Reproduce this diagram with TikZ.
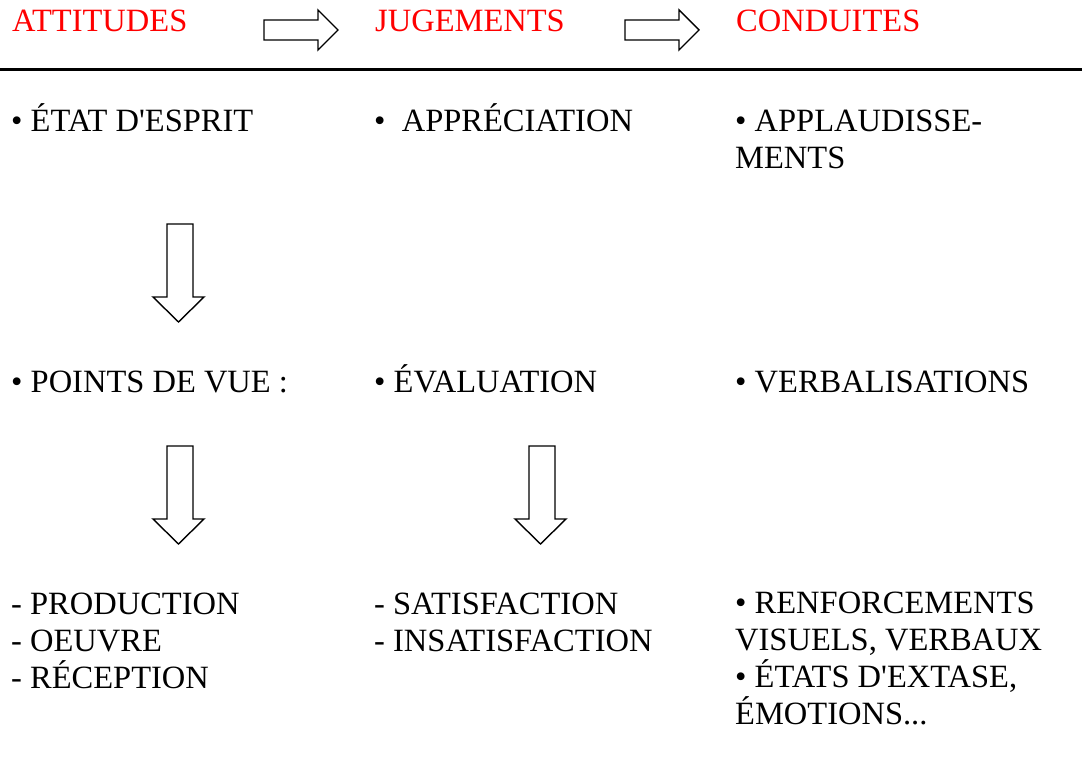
\documentclass[tikz,border=0pt]{standalone}
\usepackage{fontspec}
\setmainfont{Liberation Serif}[Ligatures=TeXOff]
\definecolor{hdred}{RGB}{255,0,0}
\begin{document}
\begin{tikzpicture}[x=1pt,y=-1pt,
  txt/.style={anchor=base west,inner sep=0pt,align=left,font=\fontsize{32.5}{37}\selectfont},
  hd/.style={txt,text=hdred},
  blk/.style={draw=black,line width=1.4pt,line join=miter,fill=white},
  rightarrow/.pic={\draw[blk] (0,10)--(54,10)--(54,0)--(74,20)--(54,40)--(54,30)--(0,30)--cycle;},
  downarrow/.pic={\draw[blk] (0,0)--(26,0)--(26,73)--(37,73)--(11.5,98)--(-14,73)--(0,73)--cycle;}]
\useasboundingbox (0,0) rectangle (1082,762);
% headers
\node[hd] (att) at (12,32) {ATTITUDES};
\node[hd] (jug) at (375,32) {JUGEMENTS};
\node[hd] (con) at (736,32) {CONDUITES};
\pic at (264,10) {rightarrow};
\pic at (625,10) {rightarrow};
\draw[line width=3pt] (0,70) -- (1082,70);
% row 1 (multi-line nodes: base anchor = last line)
\node[txt] (a1) at (11,132) {• ÉTAT D'ESPRIT};
\node[txt] (j1) at (374,132) {•\ \ APPRÉCIATION};
\node[txt] (c1) at (735,169) {• APPLAUDISSE-\\MENTS};
% row 2
\node[txt] (a2) at (11,392) {• POINTS DE VUE :};
\node[txt] (j2) at (374,392) {• ÉVALUATION};
\node[txt] (c2) at (735,392) {• VERBALISATIONS};
% row 3
\node[txt] (a3) at (11,688) {- PRODUCTION\\- OEUVRE\\- RÉCEPTION};
\node[txt] (j3) at (374,651) {- SATISFACTION\\- INSATISFACTION};
\node[txt] (c3) at (735,724) {• RENFORCEMENTS\\VISUELS, VERBAUX\\• ÉTATS D'EXTASE,\\ÉMOTIONS...};
% down arrows
\pic at (167,224) {downarrow};
\pic at (167,446) {downarrow};
\pic at (529,446) {downarrow};
\end{tikzpicture}
\end{document}
